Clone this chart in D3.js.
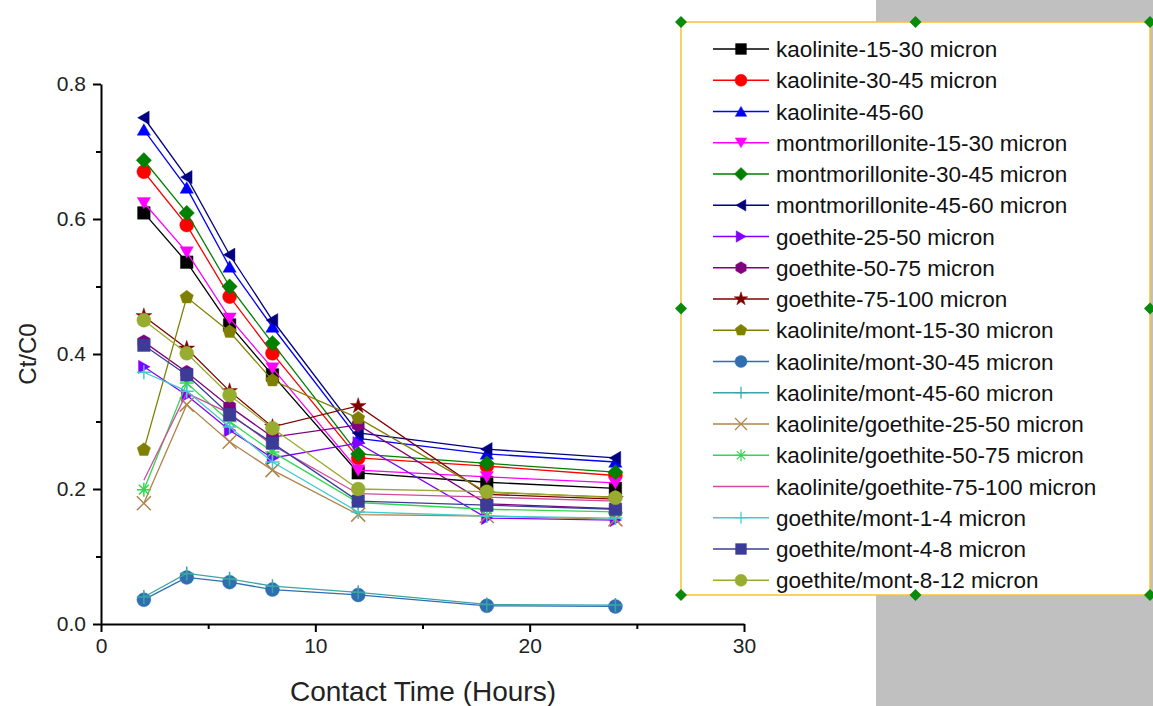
<!DOCTYPE html>
<html>
<head>
<meta charset="utf-8">
<script src="https://cdn.jsdelivr.net/npm/d3@7"></script>
<style>
  body { margin: 0; background: #fff; }
  svg { display: block; font-family: Arial, "Liberation Sans", sans-serif; }
</style>
</head>
<body>
<div id="chart"></div>
<script>
// Ct/C0 against contact time for 18 sorbent/particle-size series.

const hours = [2, 4, 6, 8, 12, 18, 24];

const seriesNames = [
    "kaolinite-15-30 micron", "kaolinite-30-45 micron", "kaolinite-45-60",
    "montmorillonite-15-30 micron", "montmorillonite-30-45 micron", "montmorillonite-45-60 micron",
    "goethite-25-50 micron", "goethite-50-75 micron", "goethite-75-100 micron",
    "kaolinite/mont-15-30 micron", "kaolinite/mont-30-45 micron", "kaolinite/mont-45-60 micron",
    "kaolinite/goethite-25-50 micron", "kaolinite/goethite-50-75 micron", "kaolinite/goethite-75-100 micron",
    "goethite/mont-1-4 micron", "goethite/mont-4-8 micron", "goethite/mont-8-12 micron"
];

const seriesValues = [
    [0.609, 0.536, 0.443, 0.369, 0.224, 0.210, 0.201],
    [0.670, 0.591, 0.485, 0.401, 0.246, 0.234, 0.220],
    [0.732, 0.646, 0.529, 0.440, 0.275, 0.252, 0.240],
    [0.624, 0.551, 0.453, 0.379, 0.228, 0.218, 0.209],
    [0.687, 0.609, 0.500, 0.416, 0.252, 0.238, 0.225],
    [0.750, 0.662, 0.547, 0.450, 0.283, 0.259, 0.246],
    [0.381, 0.339, 0.287, 0.246, 0.268, 0.157, 0.154],
    [0.418, 0.373, 0.322, 0.277, 0.295, 0.178, 0.171],
    [0.456, 0.408, 0.345, 0.292, 0.323, 0.192, 0.185],
    [0.258, 0.484, 0.433, 0.361, 0.305, 0.195, 0.188],
    [0.036, 0.069, 0.062, 0.051, 0.043, 0.027, 0.026],
    [0.040, 0.075, 0.067, 0.056, 0.047, 0.029, 0.028],
    [0.179, 0.325, 0.270, 0.228, 0.162, 0.160, 0.155],
    [0.199, 0.357, 0.300, 0.255, 0.180, 0.170, 0.166],
    [0.213, 0.342, 0.312, 0.265, 0.193, 0.188, 0.182],
    [0.373, 0.345, 0.292, 0.240, 0.166, 0.160, 0.157],
    [0.413, 0.369, 0.310, 0.268, 0.182, 0.176, 0.170],
    [0.450, 0.401, 0.339, 0.290, 0.200, 0.196, 0.187]
];

const seriesColors = [
    "#000000", "#ff0000", "#0000ff", "#ff00ff", "#008000", "#000080",
    "#8000ff", "#800080", "#800000", "#808000", "#2f6eb0", "#3aa5a5",
    "#b0844c", "#30d850", "#d04c9c", "#40cccc", "#3c3c98", "#98ac30"
];

const seriesMarkers = [
    "square", "circle", "triUp", "triDown", "diamond", "triLeft",
    "triRight", "hexagon", "star", "pentagon", "circle", "plus",
    "times", "asterisk", "none", "plus", "square", "circle"
];

const xTicks = [0, 10, 20, 30];
const yTicks = [0, 0.2, 0.4, 0.6, 0.8];

const W = 1153, H = 706;
const plot = {left: 101, right: 744, top: 84, bottom: 624};

const svg = d3.select("#chart").append("svg")
    .attr("width", W).attr("height", H);

// grey page area behind the legend
svg.append("rect")
    .attr("x", 876).attr("y", 0).attr("width", W - 876).attr("height", H)
    .attr("fill", "#c0c0c0");

const x = d3.scaleLinear().domain([0, 30]).range([plot.left, plot.right]);
const y = d3.scaleLinear().domain([0, 0.8]).range([plot.bottom, plot.top]);

function markerPath(type, r) {
    const poly = (n, rot) => d3.range(n).map(i => {
        const a = rot + i * 2 * Math.PI / n;
        return [r * Math.cos(a), r * Math.sin(a)];
    });
    const close = pts => "M" + pts.map(p => p.join(",")).join("L") + "Z";
    switch (type) {
        case "square": return close([[-r, -r], [r, -r], [r, r], [-r, r]].map(p => p.map(v => v * 0.9)));
        case "circle": return d3.symbol(d3.symbolCircle, Math.PI * r * r)();
        case "triUp": return close(poly(3, -Math.PI / 2).map(p => [p[0] * 1.1, p[1] * 1.1 + 1.5]));
        case "triDown": return close(poly(3, Math.PI / 2).map(p => [p[0] * 1.1, p[1] * 1.1 - 1.5]));
        case "triLeft": return close(poly(3, Math.PI).map(p => [p[0] * 1.1 + 1.5, p[1] * 1.1]));
        case "triRight": return close(poly(3, 0).map(p => [p[0] * 1.1 - 1.5, p[1] * 1.1]));
        case "diamond": return close(poly(4, 0).map(p => [p[0] * 1.1, p[1] * 1.1]));
        case "hexagon": return close(poly(6, -Math.PI / 2));
        case "pentagon": return close(poly(5, -Math.PI / 2));
        case "star": return d3.symbol(d3.symbolStar, r * r * 1.6)();
        case "plus": return `M${-r},0H${r}M0,${-r}V${r}`;
        case "times": return `M${-r},${-r}L${r},${r}M${-r},${r}L${r},${-r}`;
        case "asterisk": return `M${-r},0H${r}M${-r * 0.7},${-r * 0.7}L${r * 0.7},${r * 0.7}M${-r * 0.7},${r * 0.7}L${r * 0.7},${-r * 0.7}M0,${-r}V${r}`;
        default: return "";
    }
}
const strokeOnly = t => t === "plus" || t === "times" || t === "asterisk";

// axes
const yAxis = svg.append("g")
    .attr("transform", `translate(${plot.left},0)`)
    .call(d3.axisLeft(y).tickValues(yTicks).tickFormat(d3.format(".1f")).tickSize(8).tickSizeOuter(0));
svg.append("g")
    .attr("transform", `translate(${plot.left},0)`)
    .call(d3.axisLeft(y).tickValues([0.1, 0.3, 0.5, 0.7]).tickFormat("").tickSize(5).tickSizeOuter(0))
    .select(".domain").remove();
const xAxis = svg.append("g")
    .attr("transform", `translate(0,${plot.bottom})`)
    .call(d3.axisBottom(x).tickValues(xTicks).tickSize(8).tickSizeOuter(0));
svg.append("g")
    .attr("transform", `translate(0,${plot.bottom})`)
    .call(d3.axisBottom(x).tickValues([5, 15, 25]).tickFormat("").tickSize(5).tickSizeOuter(0))
    .select(".domain").remove();

svg.selectAll(".domain, .tick line").attr("stroke", "#000").attr("stroke-width", 2);
svg.selectAll(".tick text").attr("font-size", 21).attr("fill", "#222")
    .attr("font-family", "Arial, 'Liberation Sans', sans-serif");
yAxis.selectAll(".tick text").attr("x", -15);
xAxis.selectAll(".tick text").attr("y", 14);

svg.append("text")
    .attr("x", 423).attr("y", 701)
    .attr("text-anchor", "middle").attr("font-size", 28).attr("fill", "#222")
    .text("Contact Time (Hours)");
svg.append("text")
    .attr("transform", `translate(36,${(plot.top + plot.bottom) / 2}) rotate(-90)`)
    .attr("text-anchor", "middle").attr("font-size", 24).attr("fill", "#222")
    .text("Ct/C0");

// series
const line = d3.line().x((d, i) => x(hours[i])).y(d => y(d));

seriesValues.forEach((vals, s) => {
    const color = seriesColors[s];
    const m = seriesMarkers[s];
    const g = svg.append("g");
    g.append("path").datum(vals)
        .attr("d", line).attr("fill", "none")
        .attr("stroke", color).attr("stroke-width", 1.3);
    g.selectAll("path.mk").data(vals).enter().append("path")
        .attr("class", "mk")
        .attr("transform", (d, i) => `translate(${x(hours[i])},${y(d)})`)
        .attr("d", markerPath(m, 7))
        .attr("fill", strokeOnly(m) ? "none" : color)
        .attr("stroke", color)
        .attr("stroke-width", strokeOnly(m) ? 1.5 : 0.8)
        .attr("stroke-opacity", strokeOnly(m) ? 1 : 0.5);
});

// legend box
const lg = {x: 681, y: 22, w: 469, h: 573};
svg.append("rect")
    .attr("x", lg.x).attr("y", lg.y).attr("width", lg.w).attr("height", lg.h)
    .attr("fill", "#fff").attr("stroke", "#f5c431").attr("stroke-width", 1.5);

seriesNames.forEach((name, s) => {
    const cy = 49 + s * 31.25;
    const color = seriesColors[s];
    const m = seriesMarkers[s];
    svg.append("line")
        .attr("x1", 713).attr("x2", 769).attr("y1", cy).attr("y2", cy)
        .attr("stroke", color).attr("stroke-width", 1.3);
    svg.append("path")
        .attr("transform", `translate(741,${cy})`)
        .attr("d", markerPath(m, 6))
        .attr("fill", strokeOnly(m) ? "none" : color)
        .attr("stroke", color).attr("stroke-width", strokeOnly(m) ? 1.2 : 0.5);
    svg.append("text")
        .attr("x", 776).attr("y", cy + 8)
        .attr("font-size", 22.5).attr("fill", "#111")
        .text(name);
});

// selection handles
const hx = [lg.x, lg.x + lg.w / 2, lg.x + lg.w];
const hy = [lg.y, lg.y + lg.h / 2, lg.y + lg.h];
hy.forEach((yy, j) => hx.forEach((xx, i) => {
    if (i === 1 && j === 1) return;
    svg.append("path")
        .attr("transform", `translate(${xx},${yy})`)
        .attr("d", "M0,-6L6,0L0,6L-6,0Z")
        .attr("fill", "#0a8a0a");
}));
</script>
</body>
</html>
